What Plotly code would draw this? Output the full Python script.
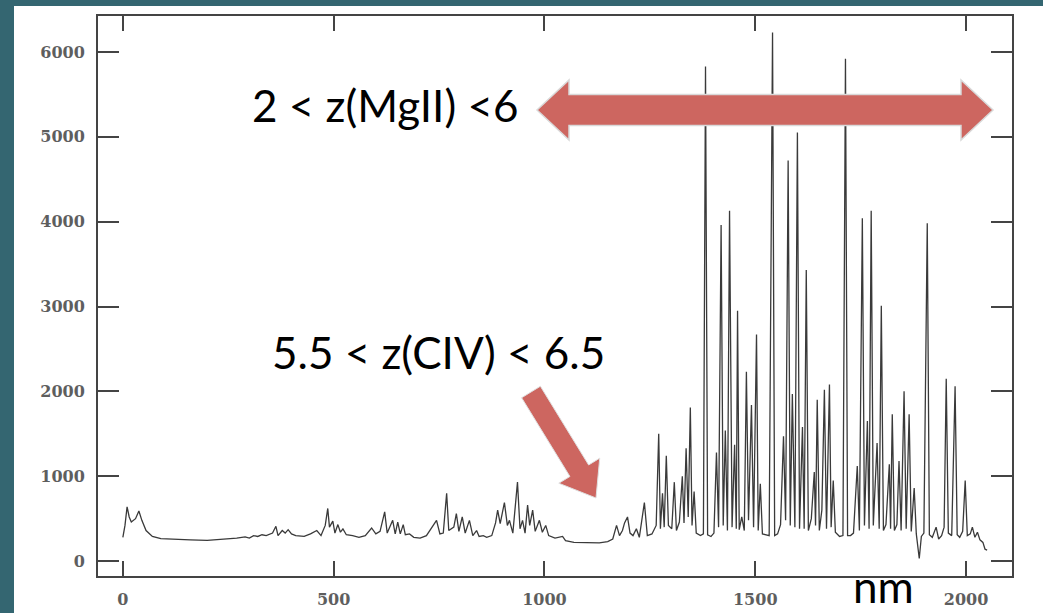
import plotly.graph_objects as go
import math

# ---- data ----
WAVELENGTH_NM = [
    0, 5, 10, 15, 20, 30, 38, 45, 55, 70, 90, 120, 160, 200, 240, 270, 290, 300, 310, 320,
    330, 340, 355, 363, 368, 378, 385, 392, 400, 410, 430, 445, 460, 470, 480, 486, 490, 498, 503, 510,
    516, 522, 530, 545, 560, 575, 590, 600, 610, 621, 627, 640, 646, 652, 658, 665, 670, 680, 690, 705,
    720, 735, 744, 752, 760, 768, 773, 785, 791, 797, 805, 812, 822, 830, 839, 845, 855, 863, 875, 884,
    889, 895, 905, 912, 917, 925, 936, 942, 948, 954, 960, 965, 972, 978, 988, 995, 1003, 1010, 1025, 1043,
    1050, 1070, 1100, 1130, 1150, 1162, 1171, 1178, 1185, 1190, 1197, 1203, 1210, 1218, 1225, 1237, 1244, 1255, 1265, 1271,
    1275, 1280, 1284, 1289, 1294, 1302, 1308, 1313, 1320, 1327, 1331, 1336, 1341, 1346, 1350, 1355, 1360, 1370, 1377, 1382,
    1387, 1395, 1402, 1408, 1413, 1419, 1424, 1429, 1434, 1439, 1445, 1451, 1455, 1458, 1462, 1468, 1474, 1479, 1484, 1491,
    1496, 1503, 1507, 1512, 1517, 1525, 1533, 1541, 1546, 1553, 1560, 1567, 1572, 1578, 1583, 1588, 1594, 1600, 1605, 1612,
    1616, 1621, 1626, 1633, 1640, 1643, 1647, 1652, 1658, 1664, 1669, 1676, 1680, 1685, 1690, 1700, 1708, 1714, 1719, 1726,
    1733, 1742, 1747, 1754, 1759, 1766, 1770, 1775, 1780, 1789, 1794, 1799, 1804, 1810, 1818, 1821, 1825, 1830, 1836, 1841,
    1846, 1853, 1858, 1865, 1870, 1877, 1882, 1889, 1894, 1900, 1908, 1913, 1920, 1929, 1935, 1942, 1948, 1953, 1958, 1966,
    1974, 1979, 1985, 1992, 1998, 2003, 2010, 2015, 2021, 2027, 2033, 2040, 2045, 2050,
]
COUNTS = [
    280, 420, 640, 520, 460, 500, 590, 480, 360, 290, 265, 255, 250, 245, 255, 270, 285, 270, 300, 290,
    310, 300, 330, 410, 300, 360, 330, 370, 320, 300, 290, 320, 360, 300, 420, 620, 400, 470, 330, 430,
    340, 380, 310, 300, 280, 300, 390, 320, 350, 580, 330, 480, 320, 460, 320, 430, 310, 320, 280, 270,
    300, 420, 480, 320, 330, 800, 360, 400, 560, 350, 520, 330, 480, 300, 360, 290, 300, 280, 300, 450,
    600, 440, 690, 420, 480, 330, 930, 380, 480, 330, 660, 420, 600, 350, 480, 340, 420, 300, 270, 290,
    240, 220, 215, 215, 230, 260, 420, 300, 360, 450, 520, 330, 300, 380, 280, 690, 300, 320, 420, 1500,
    380, 800, 400, 1240, 420, 380, 930, 360, 460, 1000, 450, 1330, 520, 1810, 420, 820, 330, 300, 320, 5830,
    310, 290, 330, 1280, 400, 3960, 420, 1540, 360, 4130, 400, 1370, 380, 2950, 370, 520, 360, 2230, 480, 1840,
    400, 2670, 360, 910, 320, 310, 300, 6230, 300, 320, 430, 1470, 480, 4720, 420, 1970, 400, 5050, 380, 1580,
    380, 3430, 360, 500, 1050, 420, 1900, 360, 600, 2020, 380, 2080, 400, 950, 340, 290, 300, 5920, 300, 300,
    330, 1120, 360, 4040, 420, 1650, 380, 4130, 420, 1390, 380, 3010, 360, 430, 1140, 380, 1730, 360, 430, 1180,
    360, 2000, 380, 1730, 350, 860, 320, 30, 290, 330, 3980, 310, 280, 400, 260, 300, 400, 2150, 330, 300,
    2060, 310, 280, 350, 950, 300, 320, 400, 280, 340, 250, 220, 140, 130,
]
X_TICKS = [0, 500, 1000, 1500, 2000]
Y_TICKS = [0, 1000, 2000, 3000, 4000, 5000, 6000]
LABEL_MGII = "2 < z(MgII) <6"
LABEL_CIV = "5.5 < z(CIV) < 6.5"
LABEL_UNIT = "nm"

# ---- layout geometry ----
W, H = 1043, 613
ML, MR, MT, MB = 98, 31, 16, 37
PW, PH = W - ML - MR, H - MT - MB


def px(x):
    return (x - ML) / PW


def py(y):
    return (H - MB - y) / PH


def arrow_path(tail, tip, shaft_half, head_half, head_len, double=False):
    (x0, y0), (x1, y1) = tail, tip
    dx, dy = x1 - x0, y1 - y0
    L = math.hypot(dx, dy)
    ux, uy = dx / L, dy / L
    nx, ny = -uy, ux

    def P(along, side):
        return (x0 + ux * along + nx * side, y0 + uy * along + ny * side)

    pts = []
    if double:
        pts += [P(0, 0), P(head_len, head_half), P(head_len, shaft_half)]
    else:
        pts += [P(0, shaft_half)]
    pts += [P(L - head_len, shaft_half), P(L - head_len, head_half), P(L, 0),
            P(L - head_len, -head_half), P(L - head_len, -shaft_half)]
    if double:
        pts += [P(head_len, -shaft_half), P(head_len, -head_half)]
    else:
        pts += [P(0, -shaft_half)]
    return "M " + " L ".join(f"{px(a):.5f},{py(b):.5f}" for a, b in pts) + " Z"


fig = go.Figure()
fig.add_trace(go.Scatter(
    x=WAVELENGTH_NM, y=COUNTS, mode="lines",
    line=dict(color="#3a3a3a", width=1.3),
    showlegend=False, hoverinfo="skip",
))

axis_common = dict(
    showline=True, linecolor="#444", linewidth=2, mirror="ticks",
    ticks="inside", tickwidth=2, tickcolor="#444",
    showgrid=False, zeroline=False, automargin=False,
    tickfont=dict(family="DejaVu Serif", size=16, color="#5e5e5e", weight="bold"),
)

fig.update_layout(
    width=W, height=H,
    margin=dict(l=ML, r=MR, t=MT, b=MB, autoexpand=False),
    paper_bgcolor="#346671",
    plot_bgcolor="white",
    xaxis=dict(range=[-59, 2109], tickvals=X_TICKS, ticklen=15,
               ticklabelstandoff=8, **axis_common),
    yaxis=dict(range=[-176, 6424], tickvals=Y_TICKS, ticklen=21,
               ticklabelstandoff=8, **axis_common),
)

shapes = [
    dict(type="rect", xref="paper", yref="paper", layer="below",
         x0=px(14), x1=px(W + 5), y0=py(H + 5), y1=py(6),
         fillcolor="white", line=dict(width=0)),
    dict(type="path", xref="paper", yref="paper",
         path=arrow_path((537, 110), (993, 110), 15.5, 30, 32, double=True),
         fillcolor="#CD6660", line=dict(color="#d9d9d9", width=1.5)),
    dict(type="path", xref="paper", yref="paper",
         path=arrow_path((531, 392), (596, 498), 11, 24, 32),
         fillcolor="#CD6660", line=dict(color="#e0e0e0", width=1)),
]
fig.update_layout(shapes=shapes)

text_font = dict(family="Lato", size=44, color="black")
fig.add_annotation(xref="paper", yref="paper", x=px(385), y=py(105), text=LABEL_MGII,
                   showarrow=False, font=text_font, xanchor="center", yanchor="middle")
fig.add_annotation(xref="paper", yref="paper", x=px(438), y=py(352), text=LABEL_CIV,
                   showarrow=False, font=text_font, xanchor="center", yanchor="middle")
fig.add_annotation(xref="paper", yref="paper", x=px(883), y=py(613), text=LABEL_UNIT,
                   showarrow=False, font=text_font, xanchor="center", yanchor="bottom",
                   borderpad=0)

fig.write_html("out.html")
